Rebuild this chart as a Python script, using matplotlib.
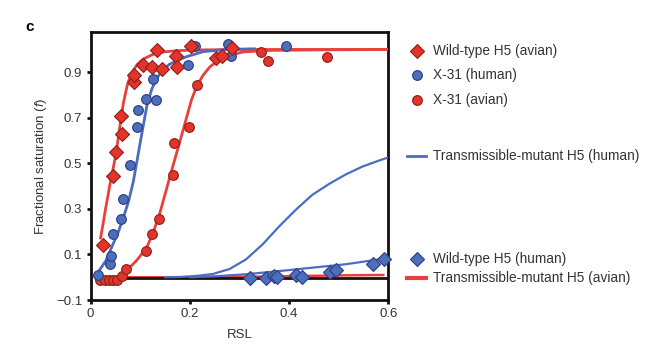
import matplotlib
matplotlib.use('Agg')
import matplotlib.pyplot as plt
from matplotlib.lines import Line2D

plt.rcParams['font.family'] = ['Liberation Sans', 'DejaVu Sans']
plt.rcParams['mathtext.fontset'] = 'custom'
plt.rcParams['mathtext.it'] = 'Liberation Sans:italic'
plt.rcParams['mathtext.rm'] = 'Liberation Sans'

# Wild-type H5 (avian) - red diamonds
wt_avian_x = [0.024, 0.045, 0.052, 0.062, 0.064, 0.088, 0.088, 0.106, 0.124, 0.134,
              0.143, 0.173, 0.174, 0.203, 0.253, 0.265, 0.285]
wt_avian_y = [0.142, 0.446, 0.549, 0.71, 0.627, 0.857, 0.887, 0.934, 0.924, 0.997,
              0.913, 0.972, 0.924, 1.017, 0.963, 0.972, 1.005]
wt_avian_fit_x = [0.02, 0.025, 0.03, 0.035, 0.039, 0.046, 0.052, 0.059, 0.066, 0.074, 0.082, 0.094,
                  0.106, 0.125, 0.146, 0.175, 0.22, 0.3, 0.45, 0.6]
wt_avian_fit_y = [0.172, 0.235, 0.30, 0.36, 0.41, 0.485, 0.556, 0.665, 0.765, 0.845, 0.895, 0.935,
                  0.958, 0.978, 0.989, 0.995, 0.998, 1.0, 1.0, 1.0]

# X-31 (human) - blue circles
x31_human_x = [0.015, 0.039, 0.04, 0.045, 0.062, 0.065, 0.08, 0.093, 0.096, 0.112,
               0.131, 0.126, 0.196, 0.21, 0.277, 0.282, 0.394]
x31_human_y = [0.01, 0.057, 0.094, 0.189, 0.255, 0.345, 0.493, 0.66, 0.734, 0.782,
               0.776, 0.872, 0.932, 1.014, 1.026, 0.972, 1.016]
x31_human_fit_x = [0.012, 0.03, 0.045, 0.056, 0.066, 0.076, 0.086, 0.099, 0.113, 0.123,
                   0.133, 0.145, 0.159, 0.175, 0.193, 0.226, 0.27, 0.33]
x31_human_fit_y = [0.013, 0.07, 0.145, 0.2, 0.263, 0.33, 0.42, 0.58, 0.75, 0.825,
                   0.872, 0.91, 0.935, 0.952, 0.968, 0.99, 1.0, 1.003]

# X-31 (avian) - red circles
x31_avian_x = [0.019, 0.029, 0.037, 0.045, 0.053, 0.064, 0.072, 0.111, 0.123, 0.138,
               0.166, 0.168, 0.198, 0.214, 0.344, 0.357, 0.476]
x31_avian_y = [-0.012, -0.012, -0.012, -0.012, -0.012, 0.006, 0.035, 0.116, 0.192, 0.255,
               0.451, 0.589, 0.659, 0.845, 0.987, 0.948, 0.967]
x31_avian_fit_x = [0.02, 0.05, 0.06, 0.072, 0.092, 0.113, 0.126, 0.139, 0.161, 0.179,
                   0.188, 0.203, 0.213, 0.226, 0.24, 0.266, 0.307, 0.36, 0.45, 0.6]
x31_avian_fit_y = [-0.008, -0.006, 0.005, 0.028, 0.072, 0.13, 0.196, 0.278, 0.451, 0.589,
                   0.659, 0.777, 0.835, 0.885, 0.923, 0.967, 0.989, 0.996, 0.998, 1.0]

# Transmissible-mutant H5 (human) - blue line
tm_human_x = [0.15, 0.179, 0.21, 0.246, 0.28, 0.313, 0.347, 0.38, 0.414, 0.447, 0.481,
              0.514, 0.548, 0.581, 0.6]
tm_human_y = [0.0, 0.001, 0.005, 0.014, 0.036, 0.078, 0.145, 0.223, 0.297, 0.362, 0.41,
              0.451, 0.486, 0.512, 0.526]

# Wild-type H5 (human) - blue diamonds
wt_human_x = [0.321, 0.354, 0.370, 0.376, 0.415, 0.426, 0.482, 0.494, 0.569, 0.591]
wt_human_y = [-0.002, -0.002, 0.006, 0.001, 0.009, 0.003, 0.025, 0.031, 0.057, 0.079]
wt_human_fit_x = [0.2, 0.25, 0.313, 0.38, 0.447, 0.514, 0.6]
wt_human_fit_y = [0.0, 0.004, 0.013, 0.027, 0.042, 0.057, 0.084]

# Transmissible-mutant H5 (avian) - red line
tm_avian_x = [0.02, 0.2, 0.35, 0.5, 0.59]
tm_avian_y = [0.0, 0.0, 0.003, 0.008, 0.01]

# baseline
base_x = [0.015, 0.6]
base_y = [-0.003, -0.003]

red_face = '#e2342b'
red_edge = '#8a1f18'
red_line = '#e8413b'
blue_face = '#4d6dbd'
blue_edge = '#2a3d7d'
blue_line = '#4c6cc4'

fig = plt.figure(figsize=(6.5, 3.52), dpi=100)
ax = fig.add_axes([0.1395, 0.1477, 0.4578, 0.7622])

mk = dict(linestyle='none', markeredgewidth=0.8, zorder=5, clip_on=False)
dsize = 7.0
osize = 7.0

ax.plot(tm_avian_x, tm_avian_y, color=red_line, lw=1.8, zorder=2)
ax.plot(base_x, base_y, color='#1a1010', lw=2.0, zorder=3)
ax.plot(tm_human_x, tm_human_y, color=blue_line, lw=1.6, zorder=3)
ax.plot(wt_human_fit_x, wt_human_fit_y, color=blue_line, lw=1.6, zorder=3)
ax.plot(wt_avian_fit_x, wt_avian_fit_y, color=red_line, lw=2.0, zorder=3)
ax.plot(x31_human_fit_x, x31_human_fit_y, color=blue_line, lw=2.0, zorder=3)
ax.plot(x31_avian_fit_x, x31_avian_fit_y, color=red_line, lw=2.0, zorder=3)

ax.plot(wt_human_x, wt_human_y, marker='D', ms=dsize, mfc=blue_face, mec=blue_edge, **mk)
ax.plot(x31_avian_x, x31_avian_y, marker='o', ms=osize, mfc=red_face, mec=red_edge, **mk)
ax.plot(x31_human_x, x31_human_y, marker='o', ms=osize, mfc=blue_face, mec=blue_edge, **mk)
ax.plot(wt_avian_x, wt_avian_y, marker='D', ms=dsize, mfc=red_face, mec=red_edge, **mk)

ax.set_xlim(0, 0.6)
ax.set_ylim(-0.1, 1.078)
ax.set_xticks([0, 0.2, 0.4, 0.6])
ax.set_xticklabels(['0', '0.2', '0.4', '0.6'])
ax.set_yticks([-0.1, 0.1, 0.3, 0.5, 0.7, 0.9])
ax.set_yticklabels(['\u22120.1', '0.1', '0.3', '0.5', '0.7', '0.9'])
ax.tick_params(direction='out', length=3, width=2, labelsize=9.5, pad=3,
               colors='#111111', labelcolor='#333333')
for s in ax.spines.values():
    s.set_linewidth(2.0)
    s.set_color('#111111')

ax.set_xlabel('RSL', fontsize=9.5, color='#333333', labelpad=6)
ax.set_ylabel(r'Fractional saturation ($\it{f}$)', fontsize=9.5, color='#333333', labelpad=5)

fig.text(0.045, 0.923, 'c', fontsize=11, fontweight='bold', va='center', ha='center')

# legend drawn by hand
W, H = 650.0, 352.0
mx = 417 / W
tx = 433 / W
entries = [
    (51, 'Wild-type H5 (avian)', dict(marker='D', ms=dsize, mfc=red_face, mec=red_edge, ls='none')),
    (75, 'X-31 (human)', dict(marker='o', ms=osize, mfc=blue_face, mec=blue_edge, ls='none')),
    (100, 'X-31 (avian)', dict(marker='o', ms=osize, mfc=red_face, mec=red_edge, ls='none')),
    (156, 'Transmissible-mutant H5 (human)', dict(color=blue_line, lw=2.0)),
    (259, 'Wild-type H5 (human)', dict(marker='D', ms=dsize, mfc=blue_face, mec=blue_edge, ls='none')),
    (278, 'Transmissible-mutant H5 (avian)', dict(color=red_line, lw=3.0)),
]
for py, label, style in entries:
    fy = 1 - py / H
    if style.get('ls') == 'none':
        h = Line2D([mx], [fy], transform=fig.transFigure, markeredgewidth=0.8, **style)
    else:
        h = Line2D([407 / W, 426 / W], [fy, fy], transform=fig.transFigure, **style)
    fig.add_artist(h)
    fig.text(tx, fy, label, fontsize=9.8, color='#333333', va='center', ha='left')

fig.savefig('out.png', dpi=100)
